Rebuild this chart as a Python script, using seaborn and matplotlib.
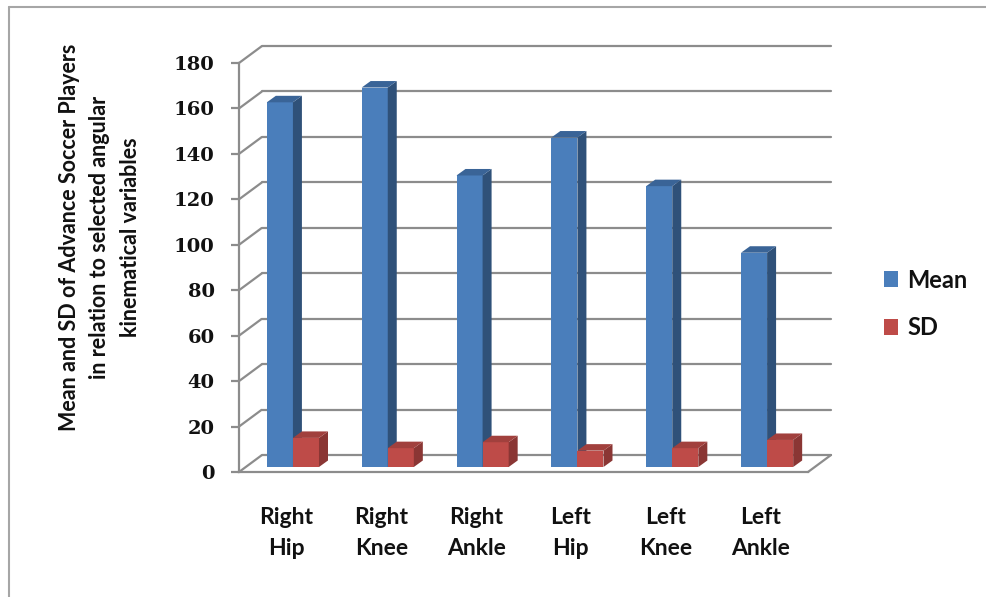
import pandas as pd
import seaborn as sns
import matplotlib.pyplot as plt
from matplotlib.transforms import ScaledTranslation
from matplotlib.patches import Polygon, Patch
from matplotlib.lines import Line2D

# Joint angle summary: mean and standard deviation per joint
joints = ["Right\nHip", "Right\nKnee", "Right\nAnkle", "Left\nHip", "Left\nKnee", "Left\nAnkle"]
mean_vals = [160.5, 167.0, 128.3, 145.0, 123.6, 94.3]
sd_vals = [12.8, 8.3, 10.9, 7.2, 8.3, 11.9]
series = ["Mean", "SD"]
y_ticks = list(range(0, 181, 20))

df = pd.DataFrame({
    "joint": joints * 2,
    "stat": [series[0]] * len(joints) + [series[1]] * len(joints),
    "value": mean_vals + sd_vals,
})

front = {"Mean": "#4A7EBB", "SD": "#BE4B48"}
side = {"Mean": "#2F5179", "SD": "#8A3634"}
top = {"Mean": "#3A6497", "SD": "#A1403D"}
grid_col = "#8C8C8C"
text_col = "#111111"

sns.set_theme(style="white")
plt.rcParams["font.family"] = ["Lato", "DejaVu Sans"]

W, H = 987, 597
fig = plt.figure(figsize=(W / 100, H / 100), dpi=100)
ax = fig.add_axes([239 / W, (H - 472) / H, 569 / W, 409 / H])

sns.barplot(data=df, x="joint", y="value", hue="stat", hue_order=series,
            palette=[front[s] for s in series], width=0.55, saturation=1,
            legend=False, ax=ax)
ax.set_xlim(-0.5, 5.5)
ax.set_ylim(0, 180)

# pixel -> data unit conversion along each axis
px_x = 6 / 569
px_y = 180 / 409


def shifted(dx, dy):
    return ax.transData + ScaledTranslation(dx / 100, dy / 100, fig.dpi_scale_trans)


# perspective walls: side-wall diagonals and back-wall gridlines
wall_dx, wall_dy = 23, 17
for t in y_ticks:
    ax.plot([-0.5, -0.5 + wall_dx * px_x], [t, t + wall_dy * px_y], color=grid_col,
            lw=1.6, clip_on=False, zorder=0.5, solid_capstyle="butt")
    ax.plot([-0.5, 5.5], [t, t], transform=shifted(wall_dx, wall_dy), color=grid_col,
            lw=1.6, clip_on=False, zorder=0.5)
# right edge of the floor
ax.plot([5.5, 5.5 + wall_dx * px_x], [0, wall_dy * px_y], color=grid_col, lw=1.6,
        clip_on=False, zorder=0.5)

# give every bar depth: shift the front face back and add side and top faces
bar_dx, bar_dy = 6.5, 5
depth_x, depth_y = 9 * px_x, 6.5 * px_y
bars = sorted(ax.patches, key=lambda p: p.get_x())
for i, p in enumerate(bars):
    stat = "Mean" if i % 2 == 0 else "SD"
    z = 3 + i * 0.01
    tr = shifted(bar_dx, bar_dy)
    p.set_transform(tr)
    p.set_zorder(z)
    p.set_linewidth(0)
    x0, w, h = p.get_x(), p.get_width(), p.get_height()
    x1 = x0 + w
    ax.add_patch(Polygon([(x1, 0), (x1 + depth_x, depth_y), (x1 + depth_x, h + depth_y), (x1, h)],
                         closed=True, transform=tr, facecolor=side[stat], lw=0,
                         zorder=z, clip_on=False))
    ax.add_patch(Polygon([(x0, h), (x1, h), (x1 + depth_x, h + depth_y), (x0 + depth_x, h + depth_y)],
                         closed=True, transform=tr, facecolor=top[stat], lw=0,
                         zorder=z, clip_on=False))

# front axis lines
for name in ["top", "right"]:
    ax.spines[name].set_visible(False)
for name in ["left", "bottom"]:
    ax.spines[name].set_color(grid_col)
    ax.spines[name].set_linewidth(1.6)
    ax.spines[name].set_zorder(0.6)

ax.set_yticks(y_ticks)
ax.set_yticklabels([str(t) for t in y_ticks], fontfamily="DejaVu Serif",
                   fontweight="bold", fontsize=14, color=text_col)
ax.tick_params(axis="y", left=True, length=5.5, width=1.6, color=grid_col, pad=12)
ax.tick_params(axis="x", bottom=False, length=0, pad=25)
for lab in ax.get_xticklabels():
    lab.set_fontsize(16.5)
    lab.set_fontweight("bold")
    lab.set_linespacing(1.6)
    lab.set_color(text_col)
ax.set_xlabel("")

ax.set_ylabel("Mean and SD of Advance Soccer Players\nin relation to selected angular\nkinematical variables",
              fontsize=15.5, fontweight="bold", linespacing=1.55, color=text_col,
              multialignment="center", va="center")
ax.yaxis.set_label_coords((100 - 239) / 569, (472 - 237) / 409)

handles = [Patch(facecolor=front[s], edgecolor="none") for s in series]
leg = fig.legend(handles, series, loc="center left", bbox_to_anchor=(884 / W, 1 - 304 / H),
                 frameon=False, prop={"size": 17, "weight": "bold"}, handlelength=0.6,
                 handleheight=0.65, handletextpad=0.4, labelspacing=1.05, borderpad=0,
                 borderaxespad=0)
for t in leg.get_texts():
    t.set_color(text_col)

# outer chart frame
fig.add_artist(Line2D([9 / W, 9 / W], [0, 1 - 7 / H], transform=fig.transFigure,
                      color="#A6A6A6", lw=1.5))
fig.add_artist(Line2D([9 / W, 1], [1 - 7 / H, 1 - 7 / H], transform=fig.transFigure,
                      color="#A6A6A6", lw=1.5))

fig.savefig("out.png", dpi=100, facecolor="white")
